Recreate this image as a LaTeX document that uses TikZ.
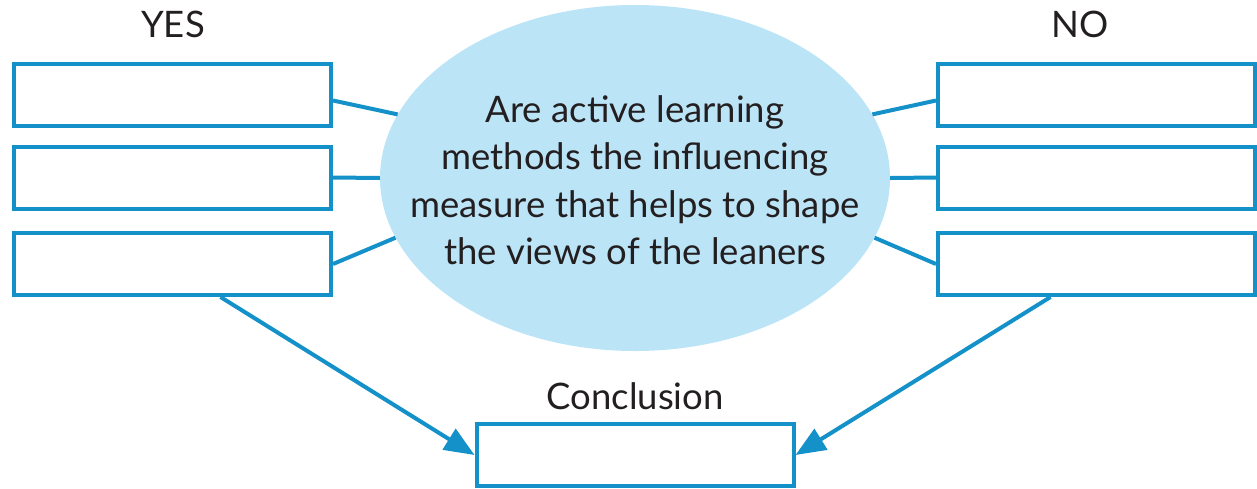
\documentclass[tikz,border=0pt]{standalone}
\usepackage{fontspec}
\setmainfont{Lato}
\usetikzlibrary{arrows.meta,shapes.geometric}
\definecolor{lineblue}{RGB}{20,145,200}
\definecolor{ovalblue}{RGB}{187,228,247}
\definecolor{txtgray}{RGB}{35,31,32}
\begin{document}
\begin{tikzpicture}[x=1pt, y=-1pt, every node/.style={text=txtgray},
  answer/.style={draw=lineblue, line width=4pt, minimum width=317pt, minimum height=62pt, inner sep=0pt},
  link/.style={draw=lineblue, line width=4pt},
  big/.style={font=\fontsize{36.5}{47.5}\selectfont}]
\useasboundingbox (0,0) rectangle (1257,488);
\node[ellipse, fill=ovalblue, minimum width=510pt, minimum height=346pt, inner sep=0pt] (q) at (635,178){};
\node[big, align=center] (qtext) at (635,180){Are active learning\\methods the influencing\\measure that helps to shape\\the views of the leaners};
\node[big] (yes) at (173,24){YES};
\node[big] (no) at (1080,24){NO};
\node[answer] (yes1) at (172.5,94.5){};
\node[answer] (yes2) at (172.5,177.5){};
\node[answer] (yes3) at (172.5,264){};
\node[answer] (no1) at (1096.5,94.5){};
\node[answer] (no2) at (1096.5,177.5){};
\node[answer] (no3) at (1096.5,264){};
\node[big] (conc) at (635,396){Conclusion};
\node[answer] (concbox) at (635,455){};
\draw[link] ([yshift=-6pt]yes1.east) -- (q.165);
\draw[link] (yes2.east) -- (q.180);
\draw[link] (yes3.east) -- (q.194);
\draw[link] ([yshift=-6pt]no1.west) -- (q.15);
\draw[link] (no2.west) -- (q.0);
\draw[link] (no3.west) -- (q.-14);
\draw[link, -{Triangle[length=30pt,width=24pt]}] ([xshift=48pt]yes3.south) -- (concbox.west);
\draw[link, -{Triangle[length=30pt,width=24pt]}] ([xshift=-46pt]no3.south) -- (concbox.east);
\end{tikzpicture}
\end{document}
